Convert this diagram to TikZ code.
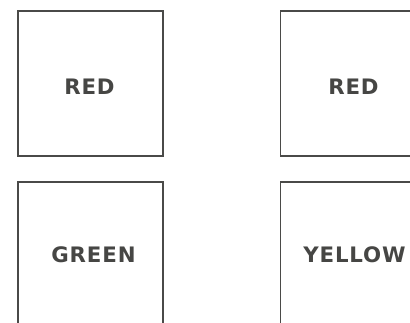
\documentclass[tikz,border=0pt]{standalone}
\usepackage{fontspec}
\setmainfont{DejaVu Sans}[LetterSpace=4]
\definecolor{inkline}{HTML}{4A4A48}
\definecolor{inktext}{HTML}{464644}
\begin{document}
\begin{tikzpicture}[x=1pt,y=-1pt,
  panel/.style={draw=inkline,line width=1.8pt,minimum width=145pt,minimum height=145pt,inner sep=0pt},
  word/.style={text=inktext,font=\fontsize{21.3}{21.3}\selectfont\bfseries,inner sep=0pt,anchor=center}]
\fill[white] (0,0) rectangle (410,323);
\useasboundingbox (0,0) rectangle (410,323);
\clip (0,0) rectangle (410,323);
\node[panel] (tl) at (90.5,83.5) {};
\node[panel] (tr) at (353,83.5) {};
\node[panel] (bl) at (90.5,254.5) {};
\node[panel] (br) at (353,254.5) {};
\node[word] (tlw) at (89.5,86.7) {RED};
\node[word] (trw) at (353.5,86.7) {RED};
\node[word] (blw) at (93.5,254.7) {GREEN};
\node[word] (brw) at (354.5,254.7) {YELLOW};
\end{tikzpicture}
\end{document}
